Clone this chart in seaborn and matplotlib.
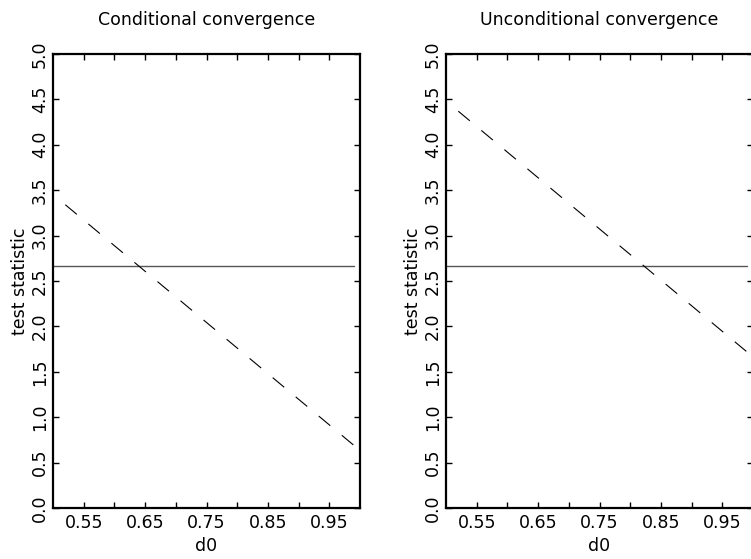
import numpy as np
import pandas as pd
import matplotlib
matplotlib.use("Agg")
import matplotlib.pyplot as plt
import seaborn as sns

# values
d0 = [0.52, 0.99]
cond_stat = [3.34, 0.69]
uncond_stat = [4.37, 1.72]
crit_d0 = [0.50, 0.99]
crit_value = [2.665, 2.665]

panel_titles = ["Conditional convergence", "Unconditional convergence"]
xtick_major = [0.55, 0.65, 0.75, 0.85, 0.95]
xtick_minor = [0.60, 0.70, 0.80, 0.90]
ytick_vals = [0.0, 0.5, 1.0, 1.5, 2.0, 2.5, 3.0, 3.5, 4.0, 4.5, 5.0]

sns.set_style("ticks")
plt.rcParams["font.family"] = ["DejaVu Sans"]
plt.rcParams["text.color"] = "black"
plt.rcParams["axes.labelcolor"] = "black"
plt.rcParams["xtick.color"] = "black"
plt.rcParams["ytick.color"] = "black"

fig = plt.figure(figsize=(7.51, 5.59), dpi=100)
ax_left = fig.add_axes([0.0706, 0.0912, 0.4088, 0.8122])
ax_right = fig.add_axes([0.5939, 0.0912, 0.4088, 0.8122])

stats = {"Conditional convergence": cond_stat,
         "Unconditional convergence": uncond_stat}

for ax, title in zip([ax_left, ax_right], panel_titles):
    df = pd.DataFrame({"d0": d0, "stat": stats[title]})
    crit = pd.DataFrame({"d0": crit_d0, "stat": crit_value})
    sns.lineplot(data=crit, x="d0", y="stat", ax=ax, color="#555555",
                 lw=1.0)
    sns.lineplot(data=df, x="d0", y="stat", ax=ax, color="black",
                 lw=0.8, linestyle=(0, (13.5, 13.5)))

    ax.set_xlim(0.5, 1.0)
    ax.set_ylim(0, 5)
    ax.set_xticks(xtick_major)
    ax.set_xticklabels([f"{v:.2f}" for v in xtick_major])
    ax.set_xticks(xtick_minor, minor=True)
    ax.set_yticks(ytick_vals)
    ax.set_yticklabels([f"{v:.1f}" for v in ytick_vals], rotation=90,
                       va="center")
    ax.tick_params(which="both", direction="in", length=4, width=1,
                   top=True, right=True, labelsize=12.5, pad=4)
    ax.tick_params(axis="y", pad=3)
    for side in ax.spines.values():
        side.set_visible(True)
        side.set_linewidth(1.6)
        side.set_color("black")

    ax.set_title(title, fontsize=12.5, pad=21)
    ax.set_xlabel("d0", fontsize=12.5, labelpad=4)
    ax.set_ylabel("test statistic", fontsize=12.5, labelpad=1.5)

fig.savefig("out.png", dpi=100)
